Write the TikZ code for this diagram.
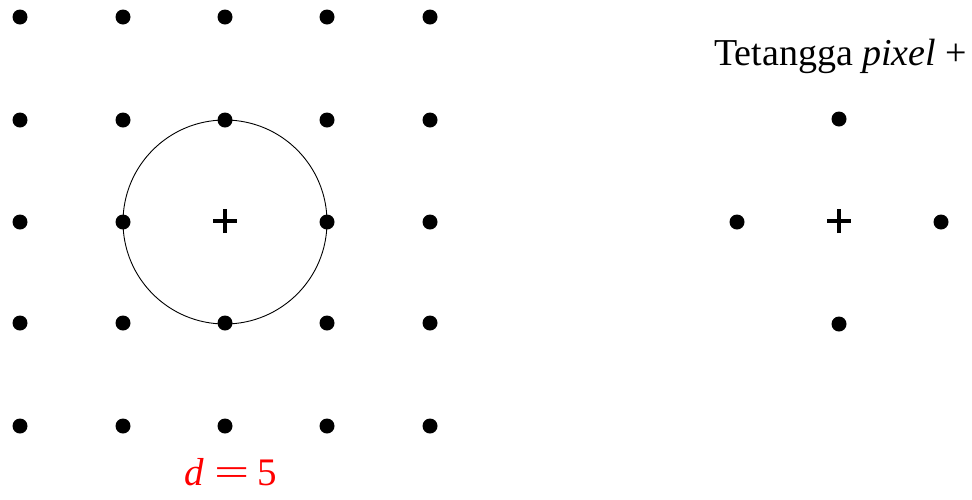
\documentclass[tikz,border=0pt]{standalone}
\usepackage{fontspec}
\setmainfont{Liberation Serif}
\usepackage{graphicx}
\begin{document}
\begin{tikzpicture}[x=1pt,y=-1pt,
  dot/.style={circle,fill=black,inner sep=0pt,minimum size=15pt},
  plusline/.style={line width=3.2pt},
  ring/.style={line width=0.9pt},
  lbl/.style={font=\fontsize{38}{42}\selectfont,inner sep=0pt,anchor=base west}]
\useasboundingbox (0,0) rectangle (972,499);
% grid of dots (centre position holds the plus)
\foreach \i/\x in {1/20,2/123,3/225,4/327,5/430}{
  \foreach \j/\y in {1/17,2/120,3/222,4/323,5/426}{
    \ifnum\i\j=33\relax\else
      \node[dot] (g\i\j) at (\x,\y) {};
    \fi
  }
}
% circle through the four neighbours
\coordinate (c1) at (225,222);
\draw[ring] (c1) circle[radius=102pt];
\draw[plusline] ([xshift=-12pt,yshift=1pt]c1) -- ([xshift=12pt,yshift=1pt]c1);
\draw[plusline] ([yshift=-11pt]c1) -- ([yshift=13pt]c1);
% right neighbourhood
\node[dot] (n) at (839,119) {};
\node[dot] (w) at (737,222) {};
\node[dot] (e) at (941,222) {};
\node[dot] (s) at (839,324) {};
\coordinate (c2) at (839,222);
\draw[plusline] ([xshift=-12pt,yshift=1pt]c2) -- ([xshift=12pt,yshift=1pt]c2);
\draw[plusline] ([yshift=-11pt]c2) -- ([yshift=13pt]c2);
% labels
\node[lbl] (title) at (714,65) {Tetangga \textit{pixel} +};
\node[lbl,text=red,font=\fontsize{39}{43}\selectfont] (d) at (184,485) {\textit{d}\hspace{11pt}\scalebox{1.6}[1]{=}\hspace{8pt}5};
\end{tikzpicture}
\end{document}
